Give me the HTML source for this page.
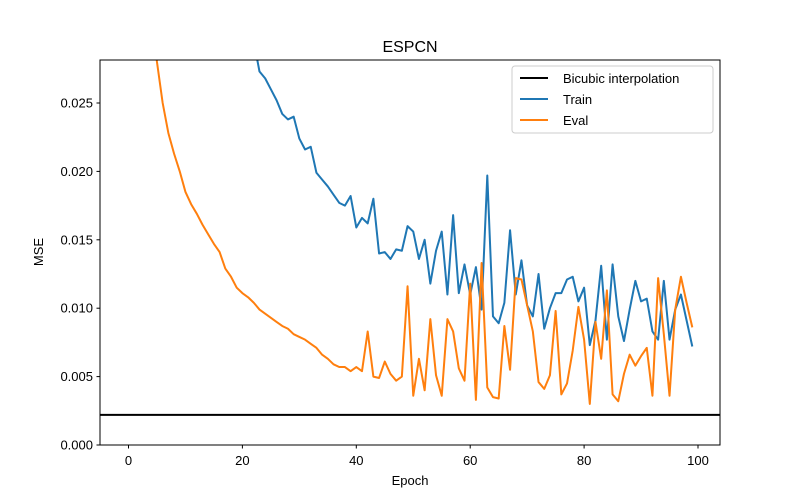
<!DOCTYPE html>
<html><head><meta charset="utf-8"><style>body{margin:0;background:#fff}svg{display:block;font-family:"Liberation Sans","DejaVu Sans",sans-serif}</style></head>
<body>
<svg id="chart" width="800" height="500" viewBox="0 0 800 500">
<rect width="800" height="500" fill="#fff"/>
<defs><clipPath id="clip"><rect x="100" y="60" width="620" height="385"/></clipPath></defs>
<text x="410" y="52" text-anchor="middle" font-size="16">ESPCN</text>
<g id="ticks"></g>
<g id="series" clip-path="url(#clip)"></g>
<rect x="100" y="60" width="620" height="385" fill="none" stroke="#000" stroke-width="1"/>
<text x="410" y="485" text-anchor="middle" font-size="13">Epoch</text>
<text transform="translate(43,252) rotate(-90)" text-anchor="middle" font-size="13">MSE</text>
<g>
<rect x="512" y="66" width="201" height="67" rx="3" fill="#fff" fill-opacity="0.8" stroke="#ccc"/>
<line x1="520" y1="78" x2="548" y2="78" stroke="#000" stroke-width="2"/>
<text x="563" y="83" font-size="13">Bicubic interpolation</text>
<line x1="520" y1="99" x2="548" y2="99" stroke="#1f77b4" stroke-width="2"/>
<text x="563" y="104" font-size="13">Train</text>
<line x1="520" y1="120" x2="548" y2="120" stroke="#ff7f0e" stroke-width="2"/>
<text x="563" y="125" font-size="13">Eval</text>
</g>
</svg>
<script>
const trainValues=[0.12,0.1,0.088,0.078,0.07,0.064,0.059,0.055,0.051,0.048,0.045,0.043,0.041,0.039,0.037,0.036,0.0345,0.0335,0.0325,0.0315,0.031,0.0305,0.0295,
0.0273,0.0268,0.026,0.0252,0.0242,0.0238,0.0240,0.0224,0.0216,0.0218,0.0199,0.0194,0.0189,0.0183,0.0177,0.0175,0.0182,0.0159,0.0166,0.0162,0.0180,0.0140,0.0141,0.0136,0.0143,0.0142,0.0160,0.0156,0.0136,0.0150,0.0118,0.0142,0.0156,0.0110,0.0168,0.0111,0.0132,0.0110,0.0130,0.0099,0.0197,0.0094,0.0089,0.0104,0.0157,0.0110,0.0135,0.0102,0.0094,0.0125,0.0085,0.0100,0.0111,0.0111,0.0121,0.0123,0.0105,0.0115,0.0073,0.0091,0.0131,0.0077,0.0132,0.0094,0.0076,0.0099,0.0120,0.0105,0.0107,0.0083,0.0077,0.0120,0.0077,0.0099,0.0110,0.0091,0.0072];
const evalValues=[0.09,0.06,0.045,0.037,0.032,0.028,0.025,0.0228,0.0213,0.0200,0.0185,0.0176,0.0169,0.0161,0.0154,0.0147,0.0141,0.0129,0.0123,0.0115,0.0111,0.0108,0.0104,0.0099,0.0096,0.0093,0.0090,0.0087,0.0085,0.0081,0.0079,0.0077,0.0074,0.0071,0.0066,0.0063,0.0059,0.0057,0.0057,0.0054,0.0057,0.0054,0.0083,0.0050,0.0049,0.0061,0.0052,0.0047,0.0050,0.0116,0.0036,0.0063,0.0040,0.0092,0.0051,0.0036,0.0092,0.0083,0.0056,0.0047,0.0118,0.0033,0.0133,0.0042,0.0035,0.0034,0.0087,0.0055,0.0122,0.0121,0.0102,0.0083,0.0046,0.0041,0.0051,0.0098,0.0037,0.0045,0.0069,0.0101,0.0077,0.0030,0.0090,0.0063,0.0113,0.0037,0.0032,0.0052,0.0066,0.0058,0.0065,0.0071,0.0036,0.0122,0.0081,0.0036,0.0099,0.0123,0.0104,0.0086];
const bicubicValue=0.0022;
const xTicks=[0,20,40,60,80,100];
const yTicks=[0,0.005,0.010,0.015,0.020,0.025];
const yTickLabels=["0.000","0.005","0.010","0.015","0.020","0.025"];

const NS="http://www.w3.org/2000/svg";
function xs(v){return 128.5+v*5.695;}
function ys(v){return 445-v*13680;}
const tk=document.getElementById('ticks'), sr=document.getElementById('series');
function mk(tag,attrs,parent){const e=document.createElementNS(NS,tag);for(const k in attrs)e.setAttribute(k,attrs[k]);parent.appendChild(e);return e;}
xTicks.forEach(t=>{
  const l=mk('line',{x1:xs(t),x2:xs(t),y1:445,y2:448.5,stroke:'#000'},tk);
  
  
  const s=mk('text',{x:xs(t),y:465,'text-anchor':'middle','font-size':13},tk);s.textContent=t;
  
  
});
yTicks.forEach((t,i)=>{
  const l=mk('line',{x1:96.5,x2:100,y1:ys(t),y2:ys(t),stroke:'#000'},tk);
  
  
  const s=mk('text',{x:93,y:ys(t)+4.5,'text-anchor':'end','font-size':13},tk);s.textContent=yTickLabels[i];
  
  
});
const bl=mk('line',{x1:100,x2:720,y1:ys(bicubicValue),y2:ys(bicubicValue),stroke:'#000','stroke-width':2},sr);


function pts(a){return a.map((v,i)=>xs(i).toFixed(2)+','+ys(v).toFixed(2)).join(' ');}
const tr=mk('polyline',{points:pts(trainValues),fill:'none',stroke:'#1f77b4','stroke-width':2,'stroke-linejoin':'round'},sr);


const ev=mk('polyline',{points:pts(evalValues),fill:'none',stroke:'#ff7f0e','stroke-width':2,'stroke-linejoin':'round'},sr);


</script>
</body></html>
